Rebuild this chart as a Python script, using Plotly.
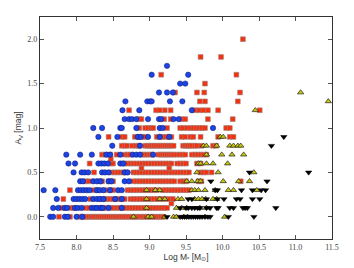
import plotly.graph_objects as go

# ---- data: (A_V row, [log stellar masses]) ----
blue_rows = [
    (0.0, [7.64, 7.68, 7.84, 7.88, 8.00, 8.08]),
    (0.1, [7.68, 7.75, 7.84, 7.87, 7.98, 8.02, 8.07, 8.21, 8.25, 8.28, 8.33, 8.36, 8.44, 8.62]),
    (0.2, [7.73, 7.96, 8.00, 8.04, 8.08, 8.12, 8.23, 8.28, 8.32, 8.37, 8.53, 8.62]),
    (0.3, [7.55, 7.71, 8.02, 8.06, 8.10, 8.14, 8.18, 8.28, 8.32, 8.37, 8.46, 8.57, 8.62]),
    (0.4, [8.05, 8.09, 8.23, 8.28, 8.33, 8.44, 8.48, 8.66, 8.72]),
    (0.5, [7.96, 8.07, 8.11, 8.16, 8.35, 8.39, 8.44, 8.66, 8.70]),
    (0.6, [7.89, 7.98, 8.30, 8.34, 8.38, 8.43, 8.60, 8.64]),
    (0.7, [7.86, 8.05, 8.21, 8.41, 8.46, 8.60, 8.77, 8.82, 8.87, 9.05]),
    (0.8, [8.49, 8.87]),
    (0.9, [8.30, 8.56, 8.84, 8.88, 8.98, 9.14, 9.27]),
    (1.0, [8.23, 8.35, 8.60, 8.62, 8.82, 9.14, 9.18, 9.87]),
    (1.1, [8.66, 8.72, 8.76, 8.82, 8.98, 9.13, 9.16, 9.33, 9.40]),
    (1.2, [8.63, 8.86, 9.58]),
    (1.3, [8.67, 8.97, 9.01, 9.03, 9.28, 9.45]),
    (1.4, [9.13, 9.24, 9.32]),
    (1.5, [9.42, 9.49]),
    (1.6, [9.03, 9.53]),
    (1.7, [9.24]),
]

red_rows = [
    (0.0, [7.76, 7.91, 8.05, 8.08, 8.11, 8.14, 8.17, 8.20, 8.23, 8.26, 8.29, 8.32, 8.35, 8.38,
           8.41, 8.44, 8.47, 8.50, 8.53, 8.56, 8.59, 8.62, 8.65, 8.68, 8.71, 8.74, 8.77, 8.80,
           8.83, 8.86, 8.89, 8.92, 8.95, 8.98, 9.01, 9.04, 9.07, 9.10, 9.13, 9.16, 9.19]),
    (0.1, [7.80, 7.92, 7.96, 8.13, 8.17, 8.32, 8.36, 8.40, 8.47, 8.51, 8.55, 8.59, 8.64, 8.68,
           8.72, 8.76, 8.80, 8.84, 8.88, 8.92, 8.96, 9.00, 9.04, 9.08, 9.12, 9.16, 9.20, 9.24]),
    (0.15, [9.30]),
    (0.2, [7.82, 8.19, 8.34, 8.38, 8.42, 8.46, 8.50, 8.54, 8.58, 8.62, 8.66, 8.74, 8.78, 8.82,
           8.86, 8.90, 8.94, 8.98, 9.02, 9.06, 9.10, 9.14, 9.18, 9.22, 9.28, 9.32]),
    (0.3, [7.91, 8.24, 8.28, 8.39, 8.46, 8.50, 8.70, 8.74, 8.78, 8.82, 8.86, 8.90, 8.94, 8.98,
           9.02, 9.06, 9.10, 9.18, 9.22, 9.26, 9.30, 9.34, 9.38, 9.42, 9.46, 9.50, 9.54]),
    (0.4, [8.13, 8.17, 8.31, 8.35, 8.44, 8.50, 8.78, 8.82, 8.86, 8.90, 8.94, 8.98, 9.02, 9.06,
           9.10, 9.14, 9.18, 9.22, 9.26, 9.30, 9.34, 9.42, 9.46, 9.50, 9.67, 9.71, 10.25]),
    (0.5, [8.24, 8.48, 8.52, 8.56, 8.60, 8.64, 8.68, 8.78, 8.82, 8.86, 8.90, 8.94, 8.98, 9.02,
           9.06, 9.10, 9.14, 9.18, 9.22, 9.26, 9.30, 9.34, 9.38, 9.42, 9.46, 9.50, 9.54, 9.70,
           9.74, 9.78, 9.85]),
    (0.55, [8.89, 9.27]),
    (0.6, [8.18, 8.47, 8.50, 8.66, 8.70, 8.74, 8.78, 8.82, 8.86, 8.90, 8.94, 8.98, 9.02, 9.06,
           9.10, 9.14, 9.18, 9.22, 9.26, 9.30, 9.38, 9.42, 9.46, 9.50, 9.65, 9.70]),
    (0.65, [8.47]),
    (0.7, [8.35, 8.39, 8.46, 8.55, 8.66, 8.70, 8.73, 8.90, 8.93, 8.96, 9.00, 9.03, 9.12, 9.15,
           9.18, 9.21, 9.24, 9.27, 9.30, 9.33, 9.37, 9.41, 9.45, 9.49, 9.58, 9.62, 9.66, 9.70,
           9.74, 9.78]),
    (0.8, [8.62, 8.66, 8.69, 8.76, 8.81, 8.85, 8.94, 8.97, 9.00, 9.03, 9.06, 9.09, 9.12, 9.15,
           9.18, 9.21, 9.24, 9.27, 9.30, 9.33, 9.46, 9.49, 9.52, 9.55, 9.58, 9.62, 9.65, 9.71,
           9.87, 9.91]),
    (0.9, [8.44, 8.62, 8.66, 8.80, 8.85, 8.90, 8.94, 9.10, 9.14, 9.18, 9.22, 9.26, 9.30, 9.44,
           9.49, 9.56, 9.60, 9.70, 9.94, 10.10, 10.15]),
    (1.0, [8.86, 8.94, 8.98, 9.02, 9.05, 9.24, 9.42, 9.46, 9.51, 9.56, 9.60, 9.64, 9.68, 9.72,
           9.76, 10.05, 10.10]),
    (1.1, [8.86, 8.89, 9.20, 9.29, 9.44, 9.49, 9.80, 10.14]),
    (1.2, [8.72, 9.09, 9.14, 9.21, 9.29, 9.62, 9.68, 9.74, 9.80, 9.94, 10.51]),
    (1.3, [9.69, 9.76, 10.21]),
    (1.4, [9.35, 9.65, 9.75, 10.24]),
    (1.5, [9.76]),
    (1.6, [9.16, 10.19]),
    (1.8, [9.70, 9.98]),
    (2.0, [10.28]),
]

yellow_rows = [
    (0.0, [8.78, 8.98, 9.03, 9.21, 9.33, 9.37, 9.47, 9.52, 9.76, 10.03]),
    (0.1, [8.96, 9.37, 9.44, 9.51, 9.69, 9.78]),
    (0.2, [8.96, 9.14, 9.21, 9.39, 9.44, 9.62, 9.67, 9.72, 9.77, 9.87, 9.92]),
    (0.3, [8.96, 9.08, 9.14, 9.58, 9.62, 9.67, 9.76, 9.90, 10.08, 10.15, 10.47]),
    (0.4, [9.51, 9.58, 9.66, 9.70, 10.01, 10.22, 10.37]),
    (0.5, [9.65, 9.94, 10.43]),
    (0.6, [9.67, 9.70, 9.78, 9.87, 10.07]),
    (0.7, [9.78, 9.99, 10.13, 10.29]),
    (0.8, [9.74, 9.78, 9.92, 10.10, 10.15, 10.21, 10.25]),
    (0.9, [9.97, 10.01]),
    (1.2, [10.45]),
    (1.3, [11.45]),
    (1.4, [11.07]),
]

black_rows = [
    (0.0, [9.24, 9.42, 9.45, 9.48, 9.51, 9.54, 9.57, 9.60, 9.63, 9.66, 9.69, 9.72, 9.76, 9.80,
           9.83, 10.08, 10.43]),
    (0.1, [9.42, 9.50, 9.53, 9.58, 9.62, 9.66, 9.69, 9.78, 9.83, 9.92, 9.94, 10.10, 10.15,
           10.28, 10.31, 10.34, 10.73]),
    (0.2, [9.53, 9.58, 9.78, 9.93, 10.02, 10.19, 10.24, 10.41, 10.51]),
    (0.3, [9.90, 9.93, 10.26, 10.41, 10.53, 10.59]),
    (0.4, [9.84, 10.61]),
    (0.5, [10.37, 11.18]),
    (0.8, [10.67]),
    (0.9, [10.84]),
]

x_ticks = [7.5, 8.0, 8.5, 9.0, 9.5, 10.0, 10.5, 11.0, 11.5]
x_tick_labels = ["7.5", "8.0", "8.5", "9.0", "9.5", "10.0", "10.5", "11.0", "11.5"]
y_ticks = [0.0, 0.5, 1.0, 1.5, 2.0]
y_tick_labels = ["0.0", "0.5", "1.0", "1.5", "2.0"]


def flatten(rows):
    xs, ys = [], []
    for av, masses in rows:
        for m in masses:
            xs.append(m)
            ys.append(av)
    return xs, ys


fig = go.Figure()

styles = [
    (red_rows, dict(symbol="square", size=4.8, color="#f5300f", line=dict(color="#9a8580", width=0.6))),
    (blue_rows, dict(symbol="circle", size=5.4, color="#1d43e0", line=dict(color="#0a1a80", width=0.5))),
    (yellow_rows, dict(symbol="triangle-up", size=5.5, color="#c8c40a", line=dict(color="#222", width=0.7))),
    (black_rows, dict(symbol="triangle-down", size=5.5, color="#000000", line=dict(color="#000", width=0.5))),
]
for rows, mk in styles:
    xs, ys = flatten(rows)
    fig.add_trace(go.Scatter(x=xs, y=ys, mode="markers", marker=mk,
                             showlegend=False, hoverinfo="skip"))

axis_common = dict(
    showline=True, linecolor="#333", linewidth=1.2, mirror="ticks",
    ticks="inside", ticklen=4, tickcolor="#555", tickwidth=0.8,
    showgrid=False, zeroline=False,
    tickfont=dict(family="Liberation Serif", size=8, color="#444"),
)

# page body has an 8px default margin, so the figure is shrunk by 8px and offsets reduced
fig.update_layout(
    width=346, height=260,
    margin=dict(l=32, r=22, t=8, b=27),
    paper_bgcolor="white", plot_bgcolor="white",
    xaxis=dict(range=[7.5, 11.5], tickvals=x_ticks, ticktext=x_tick_labels,
               title=dict(text="Log M<sub>*</sub> [M<sub>⊙</sub>]",
                          font=dict(family="Liberation Sans", size=8.5, color="#333"),
                          standoff=2),
               **axis_common),
    yaxis=dict(range=[-0.25, 2.25], tickvals=y_ticks, ticktext=y_tick_labels,
               title=dict(text="A<sub>V</sub> [mag]",
                          font=dict(family="Liberation Sans", size=8.5, color="#333"),
                          standoff=4),
               **axis_common),
)

fig.write_html("out.html")
